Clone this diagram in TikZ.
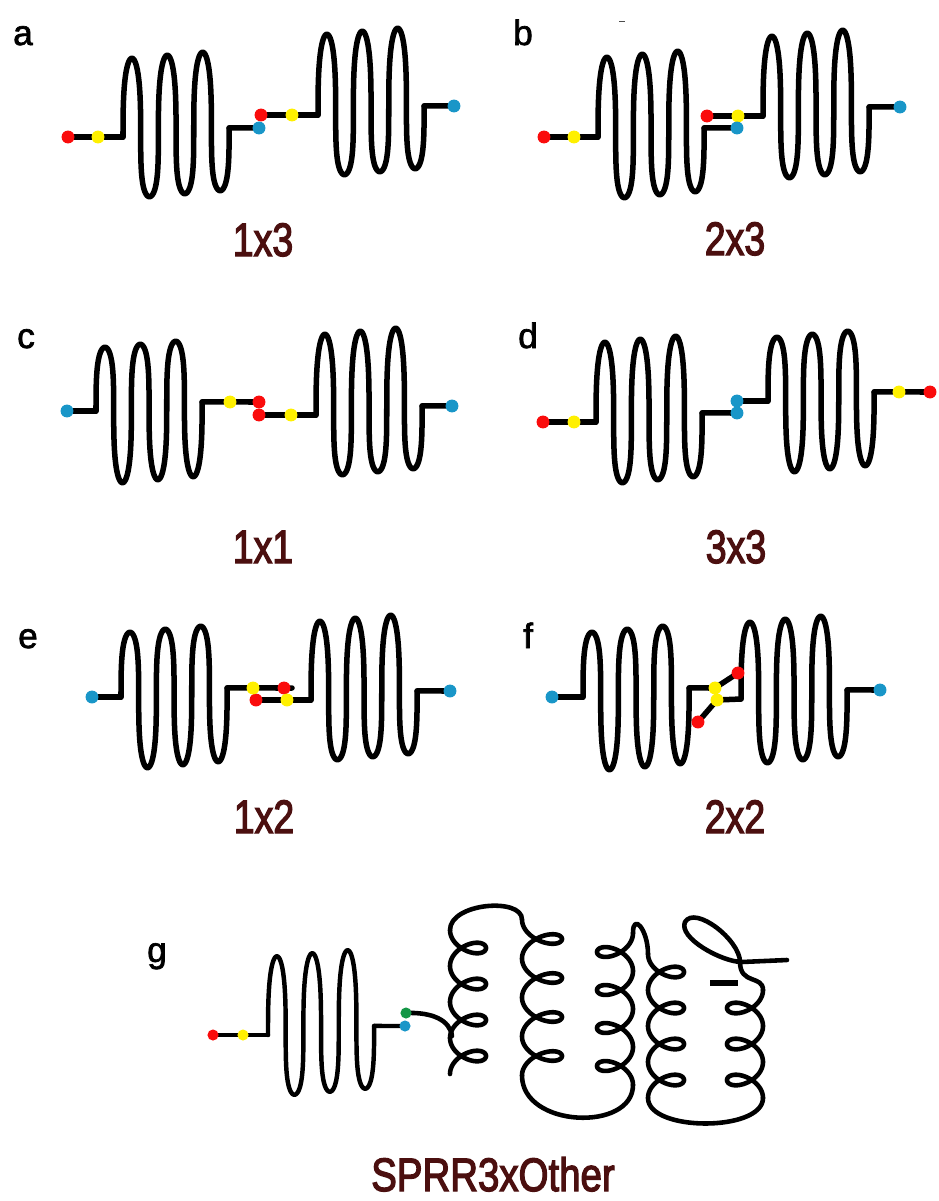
\documentclass[tikz,border=0pt]{standalone}
\usepackage{fontspec}
\setmainfont{Liberation Sans}
\newfontfamily\sigfont[FakeBold=3]{Liberation Sans}
\newfontfamily\letfont[FakeBold=2]{Liberation Sans}
\usepackage{graphicx}

\definecolor{rosso}{RGB}{250,12,12}
\definecolor{giallo}{RGB}{255,240,0}
\definecolor{blu}{RGB}{25,150,200}
\definecolor{verde}{RGB}{20,150,70}
\definecolor{bordeaux}{RGB}{75,15,15}

\tikzset{
  filo/.style={line width=4.7pt, line cap=round, line join=round},
  filosottile/.style={filo, line width=3.8pt},
  elica/.style={line width=3.9pt, line cap=round, line join=round},
  punto/.style={circle, inner sep=0pt, minimum size=11pt},
  prosso/.style={punto, fill=rosso},
  pgiallo/.style={punto, fill=giallo},
  pblu/.style={punto, fill=blu},
  pverde/.style={punto, fill=verde},
  lettera/.style={font=\letfont\fontsize{30}{30}\selectfont, anchor=base west, inner sep=0pt},
  sigla/.style={font=\sigfont\fontsize{40}{40}\selectfont, text=bordeaux, anchor=base, inner sep=0pt},
}

% tre anse: #1 stile extra, #2 nome, #3 x primo tratto, #4 y attacco, #5 salita, #6 discesa
\newcommand{\anse}[6][]{%
  \draw[filo,#1] plot[variable=\t, domain=-90:990, samples=241]
    ({#3+5.63*(rad(\t)+pi/2+0.5*sin(2*\t))},
     {#4-((#5)+(#6))/2*cos(\t)-((#5)-(#6))/2*pow(cos(\t),2)-0.48*(rad(\t)+pi/2)});
  \coordinate (#2-in) at (#3,#4);
  \coordinate (#2-out) at ({#3+106.1},{#4-9.05});
}

\begin{document}
\begin{tikzpicture}[x=0.03cm, y=-0.03cm]
\useasboundingbox (0,0) rectangle (938,1201);

%% ---- Pannello a: 1x3 ----
\node[lettera] (let-a) at (13,45) {a};
\coordinate (a-r1) at (68,137);  \coordinate (a-g1) at (98,137);
\coordinate (a-b1) at (259,128);
\coordinate (a-r2) at (261,115); \coordinate (a-g2) at (292,115);
\coordinate (a-b2) at (454,106);
\anse{a1}{123}{137}{78}{62}
\anse{a2}{318}{115}{80}{62}
\draw[filo] (a-r1) -- (a1-in);
\draw[filo] (a1-out) -- (a-b1);
\draw[filo] (a-r2) -- (a2-in);
\draw[filo] (a2-out) -- (a-b2);
\node[sigla] (sig-a) at (263,256) {\scalebox{.8}[1]{1x3}};

%% ---- Pannello b: 2x3 ----
\node[lettera] (let-b) at (513,45) {b};
\draw[line width=0.8pt, black!70] (619,21) -- (625,21);
\coordinate (b-r1) at (544,137); \coordinate (b-g1) at (574,137);
\coordinate (b-b1) at (737,128);
\coordinate (b-r2) at (707,116); \coordinate (b-g2) at (738,116);
\coordinate (b-b2) at (900,107);
\anse{b1}{598}{137}{79}{63}
\anse{b2}{763}{116}{79}{64}
\draw[filo] (b-r1) -- (b1-in);
\draw[filo] (b1-out) -- (b-b1);
\draw[filo] (b-r2) -- (b2-in);
\draw[filo] (b2-out) -- (b-b2);
\node[sigla] (sig-b) at (735,255) {\scalebox{.8}[1]{2x3}};

%% ---- Pannello c: 1x1 ----
\node[lettera] (let-c) at (17,348) {c};
\coordinate (c-b1) at (67,411);
\coordinate (c-g1) at (230,402); \coordinate (c-r1) at (259,402);
\coordinate (c-r2) at (259,415); \coordinate (c-g2) at (291,415);
\coordinate (c-b2) at (452,406);
\anse{c1}{96}{411}{63}{74}
\anse{c2}{316}{415}{80}{62}
\draw[filo] (c-b1) -- (c1-in);
\draw[filo] (c1-out) -- (c-r1);
\draw[filo] (c-r2) -- (c2-in);
\draw[filo] (c2-out) -- (c-b2);
\node[sigla] (sig-c) at (263,563) {\scalebox{.8}[1]{1x1}};

%% ---- Pannello d: 3x3 ----
\node[lettera] (let-d) at (518,348) {d};
\coordinate (d-r1) at (543,422); \coordinate (d-g1) at (574,422);
\coordinate (d-b1) at (737,413);
\coordinate (d-b2) at (737,401);
\coordinate (d-g2) at (899,392); \coordinate (d-r2) at (930,392);
\anse{d1}{596}{422}{79}{63}
\anse{d2}{768}{401}{63}{73}
\draw[filo] (d-r1) -- (d1-in);
\draw[filo] (d1-out) -- (d-b1);
\draw[filo] (d-b2) -- (d2-in);
\draw[filo] (d2-out) -- (d-r2);
\node[sigla] (sig-d) at (736,563) {\scalebox{.8}[1]{3x3}};

%% ---- Pannello e: 1x2 ----
\node[lettera] (let-e) at (18,648) {e};
\coordinate (e-b1) at (92,697);
\coordinate (e-g1) at (253,688); \coordinate (e-r1) at (284,688);
\coordinate (e-p1) at (292,688);
\coordinate (e-r2) at (256,700); \coordinate (e-g2) at (287,700);
\coordinate (e-b2) at (450,691);
\anse{e1}{121}{697}{64}{73}
\anse{e2}{311}{700}{78}{62}
\draw[filo] (e-b1) -- (e1-in);
\draw[filo] (e1-out) -- (e-p1);
\draw[filo] (e-r2) -- (e2-in);
\draw[filo] (e2-out) -- (e-b2);
\node[sigla] (sig-e) at (264,833) {\scalebox{.8}[1]{1x2}};

%% ---- Pannello f: 2x2 ----
\node[lettera] (let-f) at (523,648) {f};
\coordinate (f-b1) at (552,697);
\coordinate (f-g1) at (715,688); \coordinate (f-r1) at (738,673);
\coordinate (f-r2) at (698,722); \coordinate (f-g2) at (717,700);
\coordinate (f-b2) at (880,690);
\anse{f1}{583}{697}{64}{75}
\anse{f2}{741}{699}{76}{66}
\draw[filo] (f-b1) -- (f1-in);
\draw[filo] (f1-out) -- (f-g1) -- (f-r1);
\draw[filo] (f-r2) -- (f-g2) -- (f2-in);
\draw[filo] (f2-out) -- (f-b2);
\node[sigla] (sig-f) at (735,833) {\scalebox{.8}[1]{2x2}};

%% ---- Pannello g: SPRR3xOther ----
\node[lettera] (let-g) at (147,962) {g};
\coordinate (g-r) at (213,1035); \coordinate (g-g) at (243,1035);
\coordinate (g-b) at (405,1026); \coordinate (g-v) at (406,1013);
\anse[filosottile]{g1}{268}{1035}{78}{62}
\draw[filosottile] (g-r) -- (g1-in);
\draw[filosottile] (g1-out) -- (g-b);

% eliche (trocoidi) e raccordi
\draw[elica] (g-v) .. controls (432,1012) and (450,1020) .. (452,1036);
\draw[elica] plot[variable=\t, domain=180:1620, samples=320]
  ({471+15*cos(\t)-1.5*pow(1-cos(\t),2)}, {912+0.1*\t-13*sin(\t)});
\draw[elica] (450,930) .. controls (450,903) and (522,897) .. (522,919.5);
\draw[elica] plot[variable=\t, domain=180:1620, samples=320]
  ({545+17*cos(\t)-1.5*pow(1-cos(\t),2)}, {900+0.108333*\t-13*sin(\t)});
\draw[elica] (522,1075.5) .. controls (522,1128) and (633,1132) .. (633,1085);
\draw[elica] plot[variable=\t, domain=180:1620, samples=320]
  ({612-15*cos(\t)+1.5*pow(1-cos(\t),2)}, {914+0.105556*\t-13*sin(\t)});
\draw[elica] (633,933) .. controls (633,912) and (648,930) .. (648,954);
\draw[elica] plot[variable=\t, domain=180:1620, samples=320]
  ({669+15*cos(\t)-1.5*pow(1-cos(\t),2)}, {936+0.1*\t-13*sin(\t)});
\draw[elica] (648,1098) .. controls (648,1132) and (763,1132) .. (763,1098);
\draw[elica] plot[variable=\t, domain=540:1620, samples=260]
  ({742-15*cos(\t)+1.5*pow(1-cos(\t),2)}, {936+0.1*\t-13*sin(\t)});
\draw[elica] (763,990) .. controls (763,975) and (740,985) .. (740,962)
  .. controls (740,940) and (695,905) .. (685,922)
  .. controls (678,938) and (722,962) .. (742,962) -- (787,960);
\draw[line width=5.5pt] (710,983) -- (738,983);

\node[sigla] (sig-g) at (493,1191) {\scalebox{.82}[1]{SPRR3xOther}};

%% ---- Punti colorati ----
\foreach \p in {a-r1,a-r2,b-r1,b-r2,c-r1,c-r2,d-r1,d-r2,e-r1,e-r2,f-r1,f-r2}
  \node[prosso] (\p-p) at (\p) {};
\foreach \p in {a-g1,a-g2,b-g1,b-g2,c-g1,c-g2,d-g1,d-g2,e-g1,e-g2,f-g1,f-g2}
  \node[pgiallo] (\p-p) at (\p) {};
\foreach \p in {a-b1,a-b2,b-b1,b-b2,c-b1,c-b2,d-b1,d-b2,e-b1,e-b2,f-b1,f-b2}
  \node[pblu] (\p-p) at (\p) {};
\node[prosso, minimum size=9.5pt] (g-r-p) at (g-r) {};
\node[pgiallo, minimum size=9.5pt] (g-g-p) at (g-g) {};
\node[pblu, minimum size=9.5pt] (g-b-p) at (g-b) {};
\node[pverde, minimum size=9.5pt] (g-v-p) at (g-v) {};

\end{tikzpicture}
\end{document}
